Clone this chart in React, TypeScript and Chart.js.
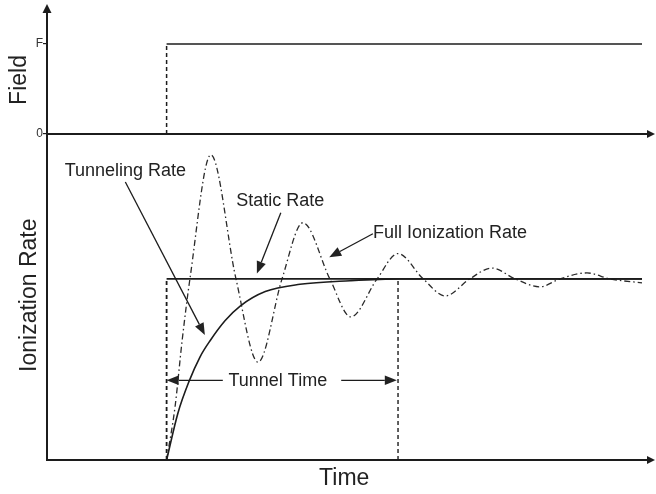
import React, { useEffect, useRef } from "react";
import { Chart, registerables } from "chart.js";

Chart.register(...registerables);

// ---- data (time in arbitrary units, rates relative to the static rate) ----
const timeMin = 0;
const timeMax = 10;

const fieldTimes = [2.0, 2.0, 9.95];
const fieldValues = [0, 1, 1];
const fieldTickValues = [0, 1];
const fieldTickLabels = ["0", "F"];

const staticTimes = [2.0, 2.0, 9.95];
const staticValues = [0, 1, 1];

const tunnelingTimes = [2.0, 2.19, 2.37, 2.56, 2.73, 2.98, 3.23, 3.65, 4.23, 5.07, 5.9, 9.95];
const tunnelingValues = [0, 0.26, 0.43, 0.57, 0.66, 0.77, 0.85, 0.93, 0.97, 0.99, 1.0, 1.0];

const fullTimes = [2.0, 2.14, 2.26, 2.39, 2.74, 3.16, 3.53, 3.93, 4.28, 4.73, 5.08, 5.52, 5.87, 6.29, 6.66, 7.07, 7.44, 7.83, 8.24, 8.58, 9.03, 9.41, 9.95];
const fullValues = [0, 0.29, 0.66, 1.0, 1.685, 1.0, 0.54, 1.0, 1.31, 1.0, 0.79, 1.0, 1.14, 1.0, 0.906, 1.0, 1.06, 1.0, 0.956, 1.0, 1.033, 1.0, 0.978];

const tunnelEndTimes = [5.87, 5.87];
const tunnelEndValues = [0, 1];

const fieldMax = 1.333;
const rateMax = 1.8;

// ---- annotation placement (data units) ----
const labels = [
  { text: "Tunneling Rate", t: 1.31, r: 1.595, align: "center", arrow: [1.31, 1.535, 2.64, 0.69] },
  { text: "Static Rate", t: 3.9, r: 1.428, align: "center", arrow: [3.91, 1.365, 3.51, 1.03] },
  { text: "Full Ionization Rate", t: 5.45, r: 1.252, align: "left", arrow: [5.45, 1.249, 4.72, 1.12] },
  { text: "Tunnel Time", t: 3.86, r: 0.436, align: "center", arrow: null },
];
const tunnelTimeArrows = [
  [2.94, 0.44, 2.0, 0.44],
  [4.92, 0.44, 5.85, 0.44],
];

const INK = "#1c1c1c";
const FONT = "'Liberation Sans', Arial, Helvetica, sans-serif";

function toPoints(xs: number[], ys: number[]) {
  return xs.map((x, i) => ({ x, y: ys[i] }));
}

function arrow(ctx: CanvasRenderingContext2D, x1: number, y1: number, x2: number, y2: number, len = 10, half = 4, width = 1.4) {
  const a = Math.atan2(y2 - y1, x2 - x1);
  const bx = x2 - len * Math.cos(a);
  const by = y2 - len * Math.sin(a);
  ctx.lineWidth = width;
  ctx.beginPath();
  ctx.moveTo(x1, y1);
  ctx.lineTo(bx, by);
  ctx.stroke();
  ctx.beginPath();
  ctx.moveTo(x2, y2);
  ctx.lineTo(bx + half * Math.sin(a), by - half * Math.cos(a));
  ctx.lineTo(bx - half * Math.sin(a), by + half * Math.cos(a));
  ctx.closePath();
  ctx.fill();
}

const overlay = {
  id: "overlay",
  afterDraw(chart: any) {
    const { ctx, chartArea, scales } = chart;
    const x = scales.x;
    const yF = scales.yF;
    const yR = scales.yR;
    ctx.save();
    ctx.strokeStyle = INK;
    ctx.fillStyle = INK;
    const left = chartArea.left;
    const tipX = chart.width - 1;
    // axes
    arrow(ctx, left, chartArea.bottom + 1, left, 4, 9, 4.5, 2);
    arrow(ctx, left, yF.getPixelForValue(0), tipX, yF.getPixelForValue(0), 8, 4, 2);
    arrow(ctx, left - 1, chartArea.bottom, tipX, chartArea.bottom, 8, 4, 2);

    // annotations
    ctx.font = `18px ${FONT}`;
    ctx.textBaseline = "middle";
    ctx.fillStyle = "#222";
    for (const l of labels) {
      ctx.textAlign = l.align as CanvasTextAlign;
      ctx.fillText(l.text, x.getPixelForValue(l.t), yR.getPixelForValue(l.r));
      if (l.arrow) {
        const [t1, r1, t2, r2] = l.arrow;
        arrow(ctx, x.getPixelForValue(t1), yR.getPixelForValue(r1), x.getPixelForValue(t2), yR.getPixelForValue(r2), 12, 4.8, 1.3);
      }
    }
    for (const [t1, r1, t2, r2] of tunnelTimeArrows) {
      arrow(ctx, x.getPixelForValue(t1), yR.getPixelForValue(r1), x.getPixelForValue(t2), yR.getPixelForValue(r2), 12, 4.8, 1.3);
    }

    // axis titles
    ctx.font = `23px ${FONT}`;
    ctx.textAlign = "center";
    ctx.fillText("Time", x.getPixelForValue(4.97), chartArea.bottom + 19);
    ctx.save();
    ctx.translate(left - 27, yF.getPixelForValue(0.6));
    ctx.rotate(-Math.PI / 2);
    ctx.fillText("Field", 0, 0);
    ctx.restore();
    ctx.save();
    ctx.translate(left - 17, yR.getPixelForValue(0.91));
    ctx.rotate(-Math.PI / 2);
    ctx.fillText("Ionization Rate", 0, 0);
    ctx.restore();
    ctx.restore();
  },
};

export default function App() {
  const ref = useRef<HTMLCanvasElement>(null);
  useEffect(() => {
    if (!ref.current) return;
    const firstDashed = (d: number[]) => (c: any) => (c.p0DataIndex === 0 ? d : undefined);
    const chart = new Chart(ref.current, {
      type: "line",
      data: {
        datasets: [
          {
            label: "Field",
            data: toPoints(fieldTimes, fieldValues),
            xAxisID: "x",
            yAxisID: "yF",
            borderColor: INK,
            borderWidth: 1.5,
            pointRadius: 0,
            segment: { borderDash: firstDashed([4, 3]) },
          },
          {
            label: "Static Rate",
            data: toPoints(staticTimes, staticValues),
            xAxisID: "x",
            yAxisID: "yR",
            borderColor: INK,
            borderWidth: 1.8,
            pointRadius: 0,
            segment: { borderDash: firstDashed([4, 3]) },
          },
          {
            label: "Tunnel Time end",
            data: toPoints(tunnelEndTimes, tunnelEndValues),
            xAxisID: "x",
            yAxisID: "yR",
            borderColor: INK,
            borderWidth: 1.4,
            borderDash: [4, 3],
            pointRadius: 0,
          },
          {
            label: "Tunneling Rate",
            data: toPoints(tunnelingTimes, tunnelingValues),
            xAxisID: "x",
            yAxisID: "yR",
            borderColor: INK,
            borderWidth: 1.6,
            pointRadius: 0,
            cubicInterpolationMode: "monotone",
          },
          {
            label: "Full Ionization Rate",
            data: toPoints(fullTimes, fullValues),
            xAxisID: "x",
            yAxisID: "yR",
            borderColor: "#2a2a2a",
            borderWidth: 1.3,
            borderDash: [6, 3, 1.5, 3],
            pointRadius: 0,
            cubicInterpolationMode: "monotone",
          },
        ],
      },
      options: {
        responsive: false,
        animation: false,
        devicePixelRatio: 1,
        layout: { padding: { top: 14, bottom: 34, left: 0, right: 11 } },
        plugins: { legend: { display: false }, tooltip: { enabled: false } },
        scales: {
          x: { type: "linear", min: timeMin, max: timeMax, display: false },
          yR: {
            type: "linear",
            position: "left",
            stack: "panels",
            stackWeight: 326,
            min: 0,
            max: rateMax,
            grid: { display: false },
            border: { display: false },
            ticks: { display: false },
            afterFit: (s: any) => {
              s.width = 47;
            },
          },
          yF: {
            type: "linear",
            position: "left",
            stack: "panels",
            stackWeight: 120,
            min: 0,
            max: fieldMax,
            grid: { display: true, drawOnChartArea: false, drawTicks: true, tickLength: 4, color: INK, lineWidth: 1.2 },
            border: { display: false },
            afterBuildTicks: (s: any) => {
              s.ticks = fieldTickValues.map((v) => ({ value: v }));
            },
            ticks: {
              padding: 0,
              color: "#333",
              font: { family: FONT, size: 12 },
              callback: (v: any) => {
                const i = fieldTickValues.indexOf(Number(v));
                return i >= 0 ? fieldTickLabels[i] : "";
              },
            },
            afterFit: (s: any) => {
              s.width = 47;
            },
          },
        },
      },
      plugins: [overlay],
    });
    return () => chart.destroy();
  }, []);
  return (
    <div style={{ position: "fixed", left: 0, top: 0, width: 656, height: 494, background: "#fff" }}>
      <canvas ref={ref} width={656} height={494} />
    </div>
  );
}
